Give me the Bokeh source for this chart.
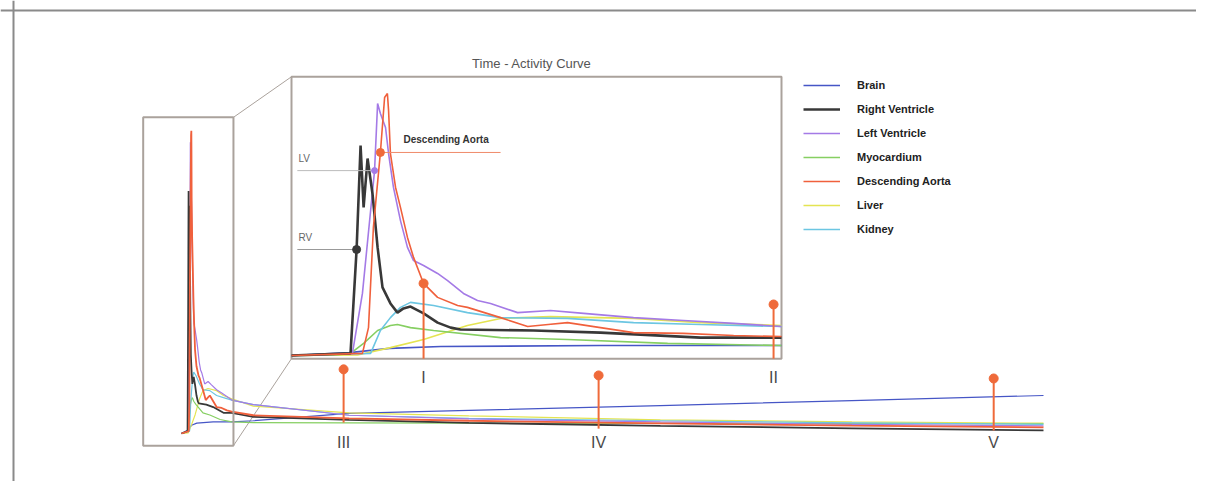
from bokeh.plotting import figure
from bokeh.models import Range1d, Span, Legend, LegendItem
from bokeh.core.properties import value
from bokeh.embed import file_html
from bokeh.resources import INLINE

# ---------------- data (time in s, activity in % of aorta peak) ----------------
brain_t = [0, 25, 42, 64, 132, 210, 300, 700, 1200, 2000, 2800, 3600]
brain_a = [0.0, 1.1, 2.7, 3.4, 3.8, 3.8, 4.2, 6.6, 7.6, 9.2, 10.8, 12.5]

rv_t = [0, 25.3, 27.9, 29.6, 30.9, 32.6, 34.7, 36.9, 39.0, 42.4, 45.4, 48.0, 51.0,
        56.6, 62.6, 68.2, 72.4, 103.7, 132.4, 175.3, 210, 300, 700, 1200, 2000, 2800, 3600]
rv_a = [0.0, 0.8, 40.3, 79.8, 56.3, 74.9, 61.6, 41.1, 25.9, 19.8, 16.3, 17.9, 18.6,
        16.0, 12.5, 10.6, 9.9, 9.5, 8.7, 6.8, 6.8, 5.5, 4.5, 3.5, 2.5, 1.7, 1.0]

lv_t = [0, 26.1, 30.4, 35.6, 36.9, 38.1, 40.3, 41.6, 43.7, 46.7, 49.7, 52.3, 56.6, 62.6,
        66.9, 73.7, 79.7, 85.3, 96.9, 111, 125.2, 146.6, 168, 189.5, 210,
        300, 700, 1200, 2000, 2800, 3600]
lv_a = [0.0, 0.8, 23.6, 70.3, 95.8, 92.0, 86.7, 76.8, 63.9, 51.3, 41.1, 36.1, 34.2, 31.2,
        28.5, 23.6, 20.9, 19.8, 16.3, 17.1, 16.0, 14.4, 13.3, 12.2, 11.0,
        9.5, 6.0, 4.8, 3.8, 3.0, 2.5]

myo_t = [0, 25.3, 30.9, 36.9, 42.4, 45.4, 51.0, 60.9, 89.6, 118.3, 161.2, 210,
         300, 700, 1200, 2000, 2800, 3600]
myo_a = [0.0, 0.8, 4.6, 9.5, 11.4, 11.8, 10.6, 9.5, 6.8, 6.1, 4.6, 3.8,
         3.6, 3.5, 3.4, 3.3, 3.3, 3.2]

da_t = [0, 30.4, 33.0, 35.1, 38.1, 39.9, 41.1, 41.6, 42.4, 44.6, 46.7, 49.7, 52.3, 56.6,
        62.6, 71.2, 75.4, 89.6, 101.2, 110, 118.3, 132.4, 146.6, 168, 189.5, 210,
        300, 700, 1200, 2000, 2800, 3600]
da_a = [0.0, 0.8, 10.6, 48.7, 77.2, 98.1, 99.6, 93.2, 76.8, 63.9, 56.3, 44.9, 37.3, 27.4,
        22.1, 19.0, 18.3, 14.4, 11.0, 11.8, 12.5, 10.6, 8.7, 8.4, 7.6, 7.2,
        6.0, 5.0, 4.2, 3.3, 2.6, 2.0]

liver_t = [0, 28.3, 42.4, 56.6, 75.4, 89.6, 111, 146.6, 175.3, 210,
           300, 700, 1200, 2000, 2800, 3600]
liver_a = [0.0, 0.2, 3.0, 6.1, 11.4, 14.1, 14.8, 14.1, 12.5, 11.4,
           9.0, 6.8, 5.8, 4.5, 3.8, 3.4]

kidney_t = [0, 33.9, 38.1, 42.4, 46.7, 51.0, 60.9, 75.4, 89.6, 118.3, 146.6, 175.3, 210,
            300, 700, 1200, 2000, 2800, 3600]
kidney_a = [0.0, 0.8, 9.5, 14.4, 18.3, 20.2, 19.0, 16.3, 14.4, 14.1, 12.5, 11.8, 11.0,
            9.5, 6.0, 5.0, 4.2, 3.5, 3.0]

series_names = ["Brain", "Right Ventricle", "Left Ventricle", "Myocardium",
                "Descending Aorta", "Liver", "Kidney"]

# time-point markers
inset_mark_t = [56.6, 206.6]
inset_mark_a = [27.4, 19.4]
inset_mark_labels = ["I", "II"]
main_mark_t = [677, 1742, 3392]
main_mark_a = [21.1, 19.1, 18.1]
main_mark_base = [3.6, 1.6, 1.0]
main_mark_labels = ["III", "IV", "V"]

# annotated points in the inset
ann_labels = ["RV", "LV", "Descending Aorta"]
ann_t = [27.9, 35.6, 38.1]
ann_a = [40.3, 70.3, 77.2]

# region magnified in the inset (main-chart data units)
zoom_t = [-160, 217]
zoom_a = [-4, 104]
inset_t = [0, 210]
inset_a = [-1.2, 106]

# ---------------- layout / style ----------------
W, H = 1196, 481
MAIN_X, MAIN_Y = (181, 1043), (48, 352)     # canvas targets of main chart
MAIN_T, MAIN_A = (0, 3600), (0, 100)
INS_X, INS_Y = (291, 781), (126, 389)        # canvas targets of inset chart
INS_T, INS_A = (0, 210), (0, 100)

colors = {
    "Brain": "#4656c6",
    "Right Ventricle": "#383838",
    "Left Ventricle": "#a47ae6",
    "Myocardium": "#86cf62",
    "Descending Aorta": "#f0603c",
    "Liver": "#e4e452",
    "Kidney": "#6cc6e2",
}
FRAME = "#aaa29c"
MARK = "#ef6a3a"
FONT = "Liberation Sans"

data = {
    "Brain": (brain_t, brain_a),
    "Right Ventricle": (rv_t, rv_a),
    "Left Ventricle": (lv_t, lv_a),
    "Myocardium": (myo_t, myo_a),
    "Descending Aorta": (da_t, da_a),
    "Liver": (liver_t, liver_a),
    "Kidney": (kidney_t, kidney_a),
}
draw_order = ["Brain", "Liver", "Myocardium", "Kidney", "Left Ventricle",
              "Right Ventricle", "Descending Aorta"]

p = figure(width=W, height=H, x_range=Range1d(0, W), y_range=Range1d(0, H),
           x_axis_type=None, y_axis_type=None, output_backend="svg",
           toolbar_location=None, min_border=0, outline_line_color=None,
           background_fill_color="white", border_fill_color="white")

# outer frame (top and left edges visible)
p.add_layout(Span(location=H - 10, dimension="width", line_color="#8a8a8a", line_width=2))
p.add_layout(Span(location=13, dimension="height", line_color="#8a8a8a", line_width=2))

main = p.subplot(x_source=Range1d(*MAIN_T), y_source=Range1d(*MAIN_A),
                 x_target=Range1d(*MAIN_X), y_target=Range1d(*MAIN_Y))
ins = p.subplot(x_source=Range1d(*INS_T), y_source=Range1d(*INS_A),
                x_target=Range1d(*INS_X), y_target=Range1d(*INS_Y))


def main_px(t, a):
    x = MAIN_X[0] + (t - MAIN_T[0]) / (MAIN_T[1] - MAIN_T[0]) * (MAIN_X[1] - MAIN_X[0])
    y = MAIN_Y[0] + (a - MAIN_A[0]) / (MAIN_A[1] - MAIN_A[0]) * (MAIN_Y[1] - MAIN_Y[0])
    return x, y


def ins_px(t, a):
    x = INS_X[0] + (t - INS_T[0]) / (INS_T[1] - INS_T[0]) * (INS_X[1] - INS_X[0])
    y = INS_Y[0] + (a - INS_A[0]) / (INS_A[1] - INS_A[0]) * (INS_Y[1] - INS_Y[0])
    return x, y


# connectors from zoom box to inset
z_tr = main_px(zoom_t[1], zoom_a[1])
z_br = main_px(zoom_t[1], zoom_a[0])
i_tl = ins_px(inset_t[0], inset_a[1])
i_bl = ins_px(inset_t[0], inset_a[0])
p.segment(x0=[z_tr[0], z_br[0]], y0=[z_tr[1], z_br[1]],
          x1=[i_tl[0], i_bl[0]], y1=[i_tl[1], i_bl[1]],
          line_color=FRAME, line_width=1)

# main chart curves
for name in draw_order:
    t, a = data[name]
    main.line(t, a, line_color=colors[name],
              line_width=1.8 if name in ("Right Ventricle", "Descending Aorta") else 1.2)

# zoom box
main.quad(left=[zoom_t[0]], right=[zoom_t[1]], bottom=[zoom_a[0]], top=[zoom_a[1]],
          fill_alpha=0, line_color=FRAME, line_width=2)

# main markers
main.segment(x0=main_mark_t, y0=main_mark_base, x1=main_mark_t, y1=main_mark_a,
             line_color=MARK, line_width=2)
main.scatter(main_mark_t, main_mark_a, size=9, fill_color=MARK, line_color=MARK)
main.text(x=main_mark_t, y=[-3] * len(main_mark_t), text=main_mark_labels,
          text_align="center", text_baseline="middle",
          text_font=value(FONT), text_font_size=value("16px"), text_color="#4a4a4a")

# inset frame
ins.quad(left=[inset_t[0]], right=[inset_t[1]], bottom=[inset_a[0]], top=[inset_a[1]],
         fill_color="white", fill_alpha=1, line_color=FRAME, line_width=2)

# inset curves (only the first INS_T seconds)
renderers = {}
for name in draw_order:
    t, a = data[name]
    keep = [i for i, tt in enumerate(t) if tt <= INS_T[1]]
    renderers[name] = ins.line([t[i] for i in keep], [a[i] for i in keep],
                               line_color=colors[name],
                               line_width=2.6 if name == "Right Ventricle" else 1.6)

# inset markers
ins.segment(x0=inset_mark_t, y0=[inset_a[0]] * 2, x1=inset_mark_t, y1=inset_mark_a,
            line_color=MARK, line_width=2)
ins.scatter(inset_mark_t, inset_mark_a, size=9, fill_color=MARK, line_color=MARK)
ins.text(x=inset_mark_t, y=[-8.4] * 2, text=inset_mark_labels,
         text_align="center", text_baseline="middle",
         text_font=value(FONT), text_font_size=value("16px"), text_color="#4a4a4a")

# annotations: leader lines, dots, labels
ann_colors = [colors["Right Ventricle"], colors["Left Ventricle"], MARK]
lead_x0 = [2.5, 2.5, ann_t[2]]
lead_x1 = [ann_t[0], ann_t[1], 89.6]
lead_col = ["#999999", "#bbbbbb", "#f08a6a"]
ins.segment(x0=lead_x0, y0=ann_a, x1=lead_x1, y1=ann_a, line_color=lead_col, line_width=1)
ins.scatter(ann_t, ann_a, size=[8, 6, 8], fill_color=ann_colors, line_color=ann_colors)
ins.text(x=[3, 3], y=[a + 2.5 for a in ann_a[:2]], text=ann_labels[:2],
         text_align="left", text_baseline="bottom",
         text_font=value(FONT), text_font_size=value("10px"), text_color="#666666")
ins.text(x=[48], y=[ann_a[2] + 3.0], text=[ann_labels[2]],
         text_align="left", text_baseline="bottom",
         text_font=value(FONT), text_font_size=value("10px"), text_font_style="bold",
         text_color="#333333")

# inset title
ins.text(x=[(inset_t[0] + inset_t[1]) / 2 - 2], y=[111], text=["Time - Activity Curve"],
         text_align="center", text_baseline="middle",
         text_font=value(FONT), text_font_size=value("13px"), text_color="#555555")

# legend
legend = Legend(items=[LegendItem(label=n, renderers=[renderers[n]]) for n in series_names],
                location=(803, 242), padding=0, margin=0, spacing=4,
                glyph_width=37, glyph_height=20, label_height=20, label_standoff=17,
                border_line_color=None, background_fill_alpha=0,
                label_text_font=FONT, label_text_font_size="11px",
                label_text_font_style="bold", label_text_color="#222222")
p.add_layout(legend)

open("out.html", "w").write(file_html(p, INLINE))
